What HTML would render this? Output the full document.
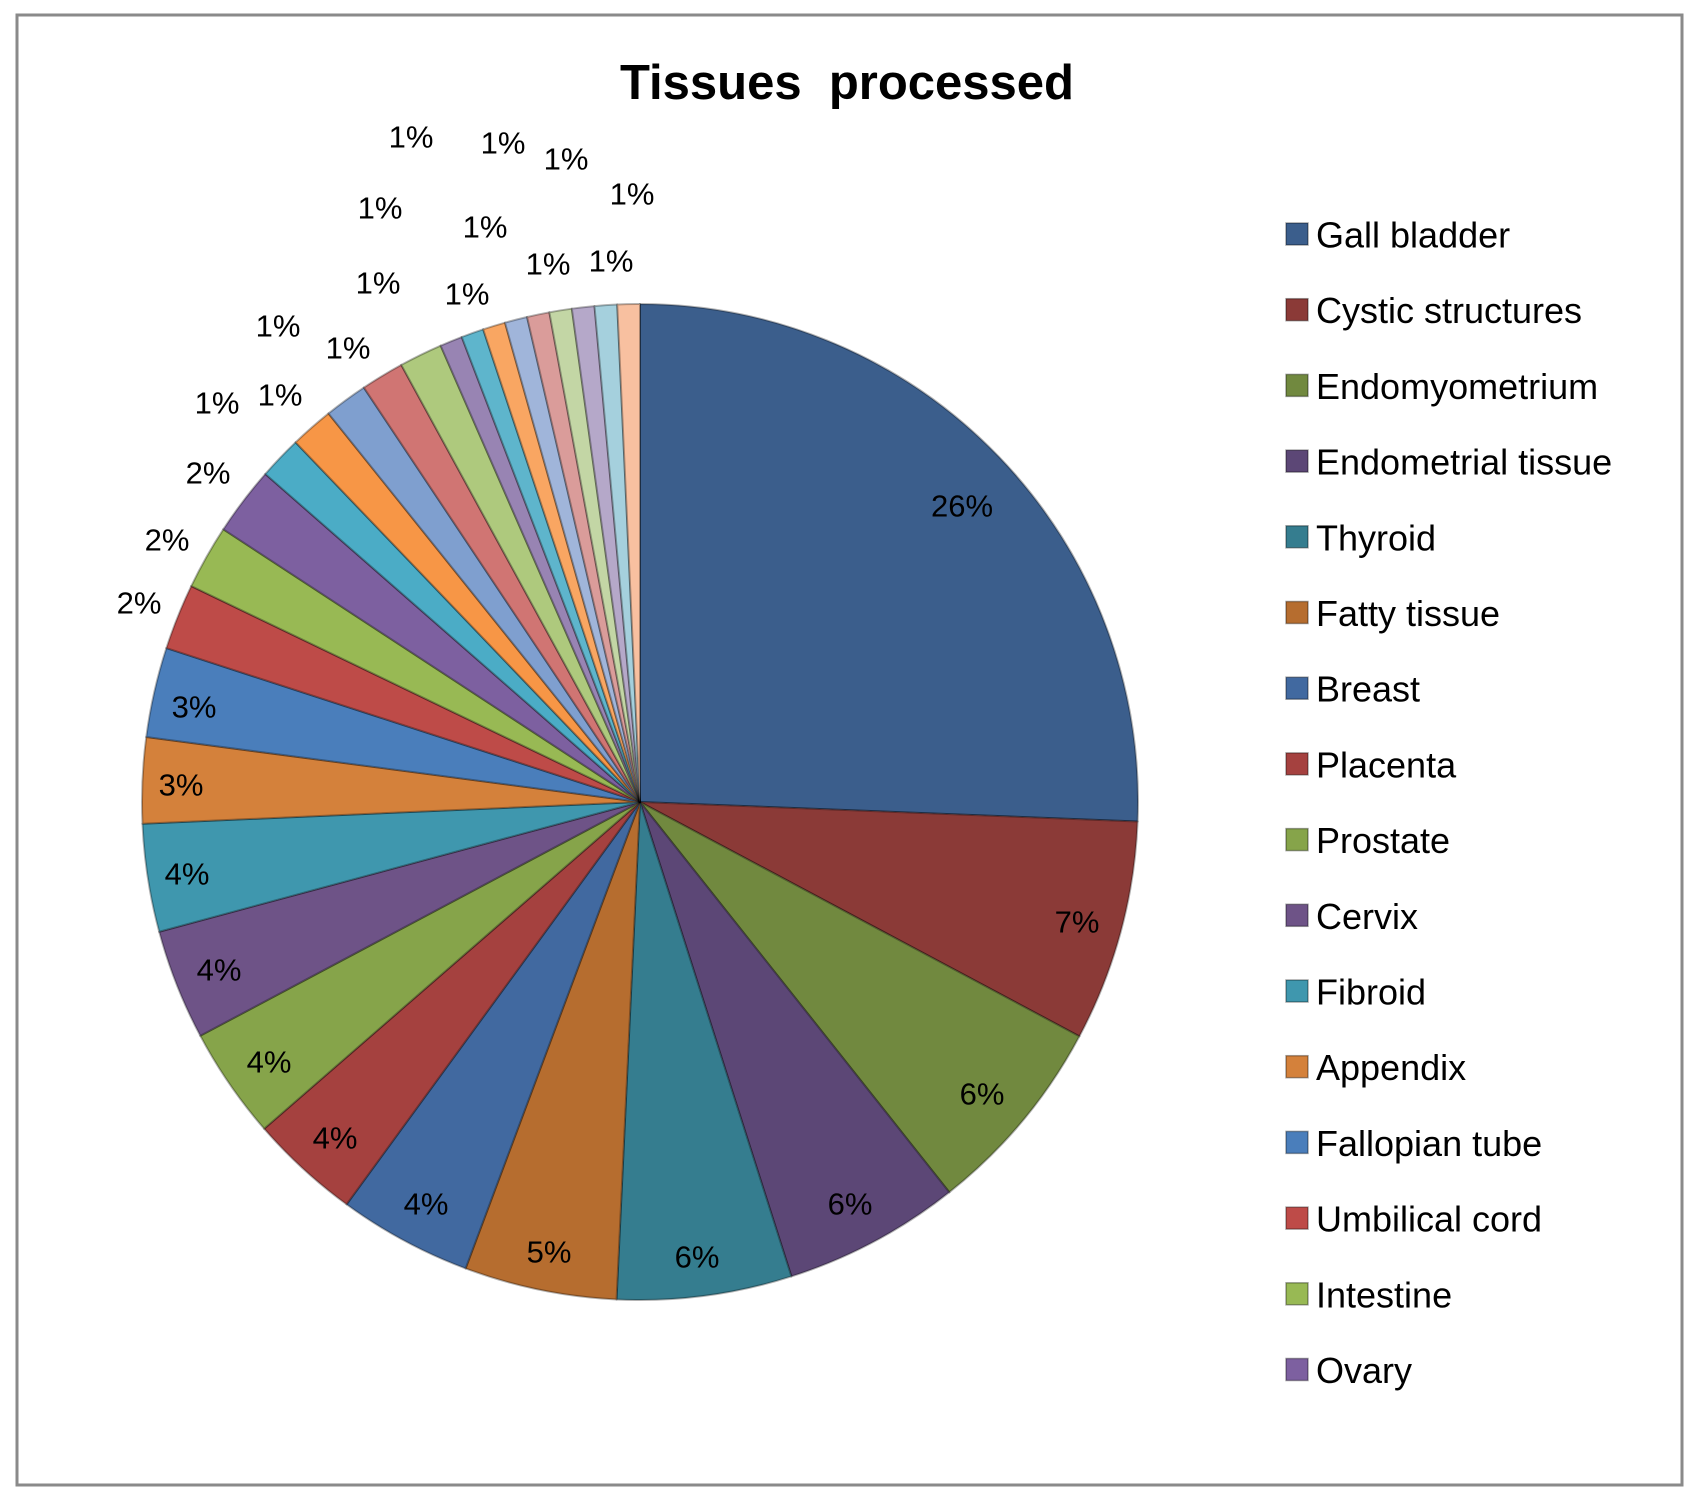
<!DOCTYPE html>
<html><head><meta charset="utf-8"><style>
html,body{margin:0;padding:0;background:#fff;}
svg{display:block;font-family:"Liberation Sans",sans-serif;}
</style></head><body>
<svg id="s" width="1695" height="1488" viewBox="0 0 1695 1488" xmlns="http://www.w3.org/2000/svg">
<rect x="17" y="15" width="1665" height="1470" fill="#fff" stroke="#8a8a8a" stroke-width="3"/>
<g id="pie"></g>
<text x="847" y="99" text-anchor="middle" font-size="49" font-weight="bold" fill="#000">Tissues&#160; processed</text>
<g font-size="31" fill="#000" text-anchor="middle" dominant-baseline="central">
<text x="962" y="506">26%</text>
<text x="1077" y="922">7%</text>
<text x="982" y="1094">6%</text>
<text x="850" y="1204">6%</text>
<text x="697" y="1257">6%</text>
<text x="549" y="1252">5%</text>
<text x="426" y="1204">4%</text>
<text x="335" y="1138">4%</text>
<text x="269" y="1062">4%</text>
<text x="219" y="970">4%</text>
<text x="187" y="874">4%</text>
<text x="181" y="785">3%</text>
<text x="194" y="707">3%</text>
<text x="139" y="603">2%</text>
<text x="167" y="540">2%</text>
<text x="208" y="473">2%</text>
<text x="217" y="403">1%</text>
<text x="280" y="395">1%</text>
<text x="278" y="326">1%</text>
<text x="348" y="348">1%</text>
<text x="378" y="283">1%</text>
<text x="467" y="294">1%</text>
<text x="380" y="208">1%</text>
<text x="485" y="227">1%</text>
<text x="548" y="264">1%</text>
<text x="611" y="261">1%</text>
<text x="411" y="137">1%</text>
<text x="503" y="143">1%</text>
<text x="566" y="159">1%</text>
<text x="632" y="194">1%</text>
</g>
<g id="leg" font-size="36" fill="#000"></g>
</svg>
<script>
var cx=640,cy=802,r=498;
var ends=[92.24,118.07,141.6,162.3,182.7,200.5,216.1,229,242,254.9,267.5,277.5,288,295.7,303.2,311.2];
var a=311.2;for(var i=0;i<5;i++){a+=5.04;ends.push(a);}
for(var i=0;i<9;i++){a+=(360-336.4)/9;ends.push(a);}
ends[ends.length-1]=360;
var cols=["#3B5E8C","#8B3A37","#71893F","#5C4776","#357D8F","#B66D2F","#4169A0","#A5413F","#86A44A","#6E5387","#3F97AE","#D4813B","#4A7EBB","#BE4B48","#98B954","#7D60A0","#4BACC6","#F79646","#7F9FCF","#D07573","#AEC97D","#9884B3","#5EB5CC","#F9A662","#A0B5DA","#DA9C9A","#C3D6A5","#B5A8C9","#A5D0DD","#F8C0A0"];
var g=document.getElementById('pie'),ns="http://www.w3.org/2000/svg",st=0;
function pt(d){var t=d*Math.PI/180;return [cx+r*Math.sin(t),cy-r*Math.cos(t)];}
for(var i=0;i<ends.length;i++){var p1=pt(st),p2=pt(ends[i]);var lg=(ends[i]-st)>180?1:0;
var p=document.createElementNS(ns,'path');
p.setAttribute('d','M'+cx+','+cy+' L'+p1[0]+','+p1[1]+' A'+r+','+r+' 0 '+lg+' 1 '+p2[0]+','+p2[1]+' Z');
p.setAttribute('fill',cols[i]);p.setAttribute('stroke','rgba(0,0,0,0.3)');p.setAttribute('stroke-width','2');p.setAttribute('stroke-linejoin','round');
g.appendChild(p);st=ends[i];}
var names=["Gall bladder","Cystic structures","Endomyometrium","Endometrial tissue","Thyroid","Fatty tissue","Breast","Placenta","Prostate","Cervix","Fibroid","Appendix","Fallopian tube","Umbilical cord","Intestine","Ovary"];
var lg2=document.getElementById('leg');
for(var i=0;i<16;i++){var y=234+i*75.7;
var q=document.createElementNS(ns,'rect');q.setAttribute('x',1286);q.setAttribute('y',y-11);q.setAttribute('width',22);q.setAttribute('height',22);q.setAttribute('fill',cols[i]);q.setAttribute('stroke','rgba(0,0,0,0.35)');q.setAttribute('stroke-width','1.5');lg2.appendChild(q);
var t=document.createElementNS(ns,'text');t.setAttribute('x',1316);t.setAttribute('y',y+1);t.setAttribute('dominant-baseline','central');t.textContent=names[i];lg2.appendChild(t);}
</script>
</body></html>
